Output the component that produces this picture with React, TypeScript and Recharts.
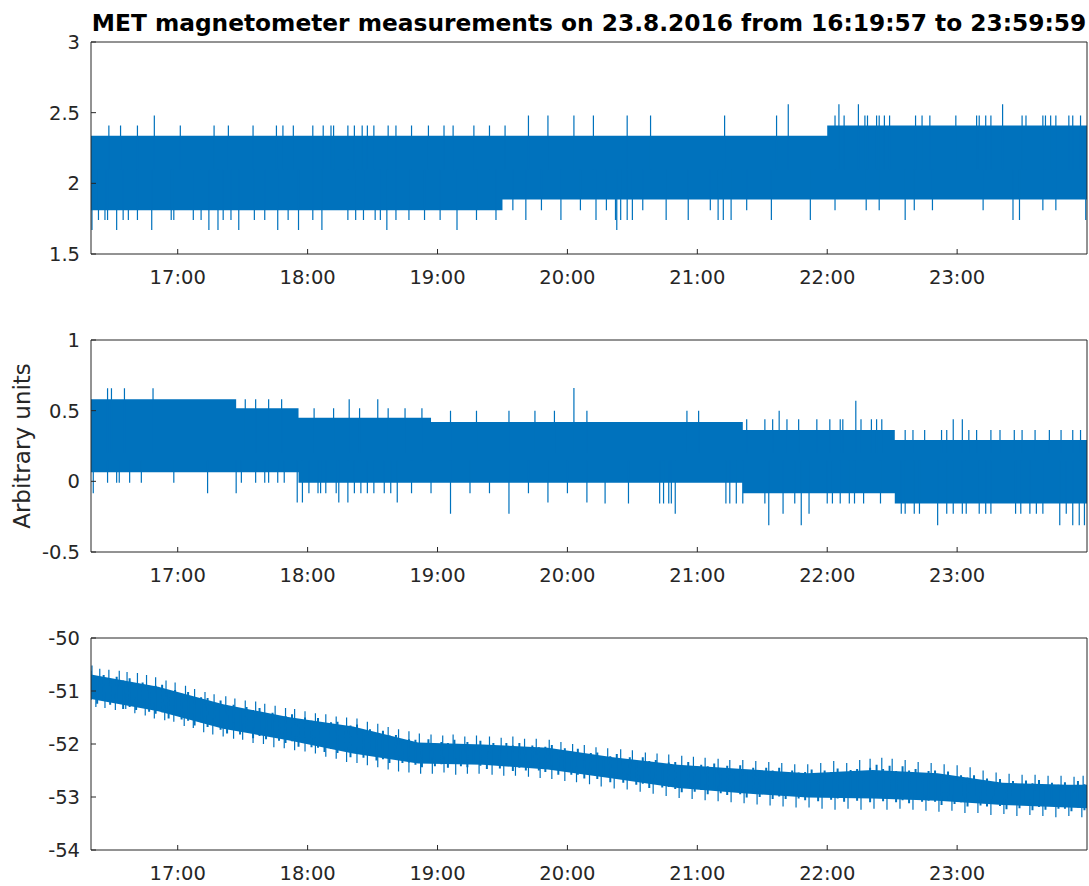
import React from 'react';
import { ComposedChart, Area, Line, XAxis, YAxis } from 'recharts';

const T_START = 16 + 19 / 60 + 57 / 3600;
const T_END = 23 + 59 / 60 + 59 / 3600;
const hourTicks = [17, 18, 19, 20, 21, 22, 23];
const hourLabels = ['17:00', '18:00', '19:00', '20:00', '21:00', '22:00', '23:00'];

const TITLE = 'MET magnetometer measurements on 23.8.2016 from 16:19:57 to 23:59:59';
const Y_LABEL = 'Arbitrary units';

// ---------- Panel 1 ----------
const p1Ticks = [1.5, 2, 2.5, 3];
const p1Domain = [1.5, 3];
const p1BandT = [T_START, 19.5, 22.0, T_END];
const p1BandLo = [1.81, 1.885, 1.885, 1.885];
const p1BandHi = [2.337, 2.337, 2.41, 2.41];
const p1UpT = [16.47, 16.56, 16.69, 16.82, 17.02, 17.28, 17.39, 17.58, 17.76, 17.81, 17.89, 18.04, 18.12, 18.18, 18.2, 18.31, 18.36, 18.42, 18.46, 18.51, 18.62, 18.68, 18.8, 18.93, 19.05, 19.12, 19.28, 19.4, 19.52, 19.7, 19.85, 20.05, 20.2, 20.46, 20.64, 21.21, 21.61, 21.7, 22.06, 22.09, 22.13, 22.24, 22.29, 22.31, 22.38, 22.4, 22.44, 22.48, 22.68, 22.73, 22.79, 22.99, 23.15, 23.17, 23.22, 23.26, 23.35, 23.5, 23.53, 23.66, 23.68, 23.72, 23.76, 23.86, 23.89, 23.95];
const p1UpV = [2.41, 2.41, 2.41, 2.48, 2.41, 2.41, 2.41, 2.41, 2.41, 2.41, 2.41, 2.41, 2.41, 2.41, 2.41, 2.41, 2.41, 2.41, 2.41, 2.41, 2.41, 2.41, 2.41, 2.41, 2.41, 2.41, 2.41, 2.41, 2.41, 2.48, 2.48, 2.48, 2.48, 2.48, 2.48, 2.48, 2.48, 2.56, 2.48, 2.56, 2.48, 2.56, 2.48, 2.48, 2.48, 2.48, 2.48, 2.48, 2.48, 2.48, 2.48, 2.48, 2.48, 2.48, 2.48, 2.48, 2.56, 2.48, 2.48, 2.48, 2.48, 2.48, 2.48, 2.48, 2.48, 2.48];
const p1DnT = [16.34, 16.39, 16.44, 16.46, 16.53, 16.58, 16.62, 16.69, 16.8, 16.95, 16.97, 17.12, 17.18, 17.24, 17.31, 17.35, 17.41, 17.47, 17.59, 17.67, 17.77, 17.85, 17.93, 18.04, 18.11, 18.31, 18.37, 18.43, 18.52, 18.56, 18.61, 18.68, 18.78, 18.9, 19.02, 19.15, 19.3, 19.45, 19.58, 19.68, 19.8, 19.95, 20.1, 20.22, 20.3, 20.37, 20.38, 20.41, 20.46, 20.5, 20.58, 20.76, 20.93, 21.1, 21.16, 21.2, 21.26, 21.38, 21.57, 21.87, 22.06, 22.3, 22.4, 22.6, 22.67, 22.81, 23.2, 23.43, 23.48, 23.66, 23.76, 23.99];
const p1DnV = [1.67, 1.74, 1.74, 1.74, 1.67, 1.74, 1.74, 1.74, 1.67, 1.74, 1.74, 1.74, 1.74, 1.67, 1.67, 1.74, 1.74, 1.67, 1.74, 1.74, 1.67, 1.74, 1.67, 1.74, 1.67, 1.74, 1.74, 1.74, 1.74, 1.74, 1.67, 1.74, 1.74, 1.74, 1.74, 1.67, 1.74, 1.74, 1.81, 1.74, 1.81, 1.74, 1.81, 1.74, 1.81, 1.74, 1.67, 1.74, 1.74, 1.74, 1.81, 1.74, 1.74, 1.81, 1.74, 1.74, 1.74, 1.81, 1.74, 1.74, 1.81, 1.81, 1.81, 1.74, 1.81, 1.81, 1.81, 1.74, 1.74, 1.81, 1.81, 1.74];

// ---------- Panel 2 ----------
const p2Ticks = [-0.5, 0, 0.5, 1];
const p2Domain = [-0.5, 1];
const p2BandT = [T_START, 17.45, 17.93, 18.95, 21.35, 22.52, T_END];
const p2BandLo = [0.064, 0.064, -0.01, -0.01, -0.085, -0.156, -0.156];
const p2BandHi = [0.58, 0.517, 0.45, 0.42, 0.363, 0.292, 0.292];
const p2UpT = [16.46, 16.49, 16.59, 16.81, 17.52, 17.6, 17.7, 17.8, 18.05, 18.2, 18.32, 18.4, 18.54, 18.62, 18.75, 18.88, 19.1, 19.3, 19.55, 19.75, 19.9, 20.05, 20.15, 20.92, 21.01, 21.38, 21.52, 21.58, 21.63, 21.69, 21.78, 21.92, 22.02, 22.1, 22.12, 22.22, 22.26, 22.34, 22.38, 22.42, 22.6, 22.66, 22.75, 22.88, 22.92, 22.97, 23.04, 23.09, 23.15, 23.26, 23.33, 23.44, 23.5, 23.6, 23.71, 23.8, 23.89, 23.95];
const p2UpV = [0.658, 0.658, 0.658, 0.658, 0.58, 0.58, 0.58, 0.58, 0.517, 0.517, 0.58, 0.517, 0.58, 0.517, 0.517, 0.517, 0.5, 0.5, 0.5, 0.5, 0.5, 0.66, 0.5, 0.5, 0.5, 0.44, 0.44, 0.44, 0.5, 0.44, 0.44, 0.44, 0.44, 0.44, 0.44, 0.57, 0.44, 0.44, 0.44, 0.44, 0.363, 0.363, 0.363, 0.363, 0.363, 0.44, 0.44, 0.363, 0.363, 0.363, 0.363, 0.363, 0.363, 0.363, 0.363, 0.363, 0.363, 0.363];
const p2DnT = [16.35, 16.46, 16.53, 16.55, 16.63, 16.72, 16.97, 17.23, 17.45, 17.49, 17.6, 17.67, 17.7, 17.77, 17.82, 17.92, 17.96, 18.01, 18.08, 18.1, 18.14, 18.22, 18.24, 18.31, 18.36, 18.41, 18.46, 18.51, 18.59, 18.64, 18.69, 18.8, 18.95, 19.1, 19.25, 19.4, 19.55, 19.7, 19.85, 20.0, 20.15, 20.29, 20.47, 20.71, 20.74, 20.78, 20.8, 20.83, 21.22, 21.25, 21.3, 21.35, 21.52, 21.55, 21.66, 21.75, 21.8, 21.86, 22.0, 22.04, 22.1, 22.17, 22.21, 22.28, 22.41, 22.57, 22.6, 22.67, 22.71, 22.85, 22.92, 22.97, 23.04, 23.07, 23.17, 23.22, 23.26, 23.45, 23.49, 23.56, 23.61, 23.66, 23.79, 23.84, 23.89, 23.94, 23.98];
const p2DnV = [-0.085, -0.01, -0.01, -0.01, -0.01, -0.01, -0.01, -0.085, -0.085, -0.01, -0.01, -0.01, -0.01, -0.01, -0.01, -0.15, -0.15, -0.085, -0.085, -0.085, -0.085, -0.085, -0.15, -0.15, -0.085, -0.085, -0.085, -0.085, -0.085, -0.085, -0.15, -0.085, -0.085, -0.23, -0.085, -0.085, -0.23, -0.085, -0.15, -0.085, -0.15, -0.156, -0.156, -0.156, -0.156, -0.156, -0.156, -0.23, -0.156, -0.156, -0.156, -0.156, -0.156, -0.31, -0.23, -0.156, -0.31, -0.23, -0.156, -0.156, -0.156, -0.156, -0.156, -0.156, -0.156, -0.23, -0.23, -0.23, -0.23, -0.31, -0.23, -0.23, -0.23, -0.23, -0.23, -0.23, -0.23, -0.23, -0.23, -0.23, -0.23, -0.23, -0.31, -0.23, -0.31, -0.31, -0.31];

// ---------- Panel 3 ----------
const p3Ticks = [-54, -53, -52, -51, -50];
const p3Domain = [-54, -50];
// solid core of the drifting band (every 30 min)
const p3CoreT = [T_START, 16.85, 17.35, 17.85, 18.35, 18.85, 19.35, 19.85, 20.35, 20.85, 21.35, 21.85, 22.35, 22.85, 23.35, 23.85, T_END];
const p3CoreHi = [-50.69, -50.92, -51.25, -51.49, -51.67, -51.97, -52.01, -52.07, -52.25, -52.39, -52.47, -52.55, -52.49, -52.55, -52.73, -52.77, -52.77];
const p3CoreLo = [-51.15, -51.38, -51.71, -51.93, -52.18, -52.37, -52.39, -52.48, -52.65, -52.83, -52.93, -53.01, -53.03, -53.07, -53.15, -53.2, -53.21];
// min/max of the signal every 3 minutes from 16:19:48
const p3Start = 16.33;
const p3Step = 0.05;
const p3Hi = [
  -50.62, -50.72, -50.7, -50.79, -50.73, -50.8, -50.76, -50.9, -50.84, -50.9,
  -50.9, -50.88, -51.02, -50.98, -51.05, -51.02, -51.16, -51.12, -51.13, -51.24,
  -51.18, -51.28, -51.26, -51.35, -51.3, -51.36, -51.32, -51.47, -51.41, -51.47,
  -51.47, -51.44, -51.56, -51.5, -51.56, -51.51, -51.64, -51.59, -51.58, -51.67,
  -51.65, -51.63, -51.75, -51.72, -51.83, -51.75, -51.84, -51.83, -51.94, -51.91,
  -51.92, -51.98, -51.91, -52.01, -51.96, -51.98, -51.92, -52.02, -51.96, -52.05,
  -51.94, -52.03, -51.98, -52.06, -51.98, -52.03, -51.98, -52.1, -52.03, -52.06,
  -52.05, -52.02, -52.14, -52.08, -52.14, -52.09, -52.22, -52.17, -52.16, -52.25,
  -52.23, -52.19, -52.3, -52.25, -52.35, -52.25, -52.32, -52.3, -52.39, -52.35,
  -52.34, -52.41, -52.34, -52.44, -52.39, -52.42, -52.37, -52.47, -52.41, -52.5,
  -52.4, -52.49, -52.45, -52.52, -52.45, -52.5, -52.45, -52.58, -52.5, -52.54,
  -52.53, -52.48, -52.57, -52.5, -52.53, -52.46, -52.57, -52.49, -52.47, -52.53,
  -52.45, -52.39, -52.47, -52.41, -52.51, -52.42, -52.5, -52.47, -52.56, -52.51,
  -52.5, -52.58, -52.52, -52.63, -52.59, -52.63, -52.59, -52.7, -52.65, -52.75,
  -52.66, -52.74, -52.7, -52.77, -52.69, -52.74, -52.68, -52.81, -52.73, -52.77,
  -52.72, -52.78, -52.7, -52.76, -52.74,
];
const p3Lo = [
  -51.17, -51.24, -51.18, -51.26, -51.2, -51.34, -51.3, -51.36, -51.3, -51.39,
  -51.43, -51.4, -51.52, -51.45, -51.54, -51.56, -51.65, -51.59, -51.68, -51.64,
  -51.73, -51.8, -51.73, -51.82, -51.76, -51.89, -51.85, -51.91, -51.86, -51.94,
  -51.98, -51.95, -52.05, -51.98, -52.06, -52.07, -52.15, -52.09, -52.17, -52.12,
  -52.25, -52.19, -52.26, -52.21, -52.31, -52.29, -52.36, -52.26, -52.36, -52.35,
  -52.39, -52.44, -52.34, -52.42, -52.38, -52.45, -52.34, -52.42, -52.44, -52.37,
  -52.41, -52.47, -52.39, -52.46, -52.39, -52.51, -52.45, -52.5, -52.43, -52.5,
  -52.53, -52.49, -52.58, -52.5, -52.58, -52.58, -52.65, -52.58, -52.66, -52.59,
  -52.72, -52.66, -52.73, -52.67, -52.77, -52.75, -52.83, -52.73, -52.82, -52.81,
  -52.85, -52.91, -52.82, -52.9, -52.87, -52.95, -52.85, -52.93, -52.96, -52.9,
  -52.95, -53.01, -52.93, -53.0, -52.92, -53.04, -52.99, -53.04, -52.96, -53.03,
  -53.06, -53.0, -53.08, -52.98, -53.05, -53.03, -53.09, -53.0, -53.07, -52.99,
  -53.1, -53.02, -53.08, -53.01, -53.1, -53.06, -53.12, -53.0, -53.09, -53.07,
  -53.09, -53.15, -53.06, -53.13, -53.1, -53.18, -53.08, -53.16, -53.18, -53.12,
  -53.17, -53.23, -53.14, -53.21, -53.13, -53.25, -53.19, -53.24, -53.15, -53.22,
  -53.22, -53.27, -53.2, -53.25, -53.24,
];
const p3UpT = [16.34, 16.4, 16.47, 16.55, 16.61, 16.69, 16.76, 16.83, 16.91, 16.98, 17.06, 17.13, 17.21, 17.28, 17.37, 17.44, 17.52, 17.6, 17.67, 17.75, 17.83, 17.9, 17.98, 18.06, 18.14, 18.22, 18.3, 18.38, 18.46, 18.54, 18.62, 18.7, 18.78, 18.86, 18.95, 19.04, 19.12, 19.21, 19.3, 19.4, 19.49, 19.58, 19.67, 19.76, 19.86, 19.95, 20.04, 20.13, 20.22, 20.31, 20.41, 20.5, 20.6, 20.69, 20.78, 20.88, 20.97, 21.06, 21.16, 21.25, 21.35, 21.45, 21.55, 21.65, 21.75, 21.85, 21.95, 22.05, 22.15, 22.25, 22.33, 22.42, 22.5, 22.6, 22.7, 22.8, 22.9, 23.0, 23.1, 23.2, 23.3, 23.4, 23.5, 23.6, 23.7, 23.8, 23.9, 23.97];
const p3UpV = [-50.52, -50.58, -50.6, -50.62, -50.64, -50.66, -50.7, -50.74, -50.8, -50.84, -50.9, -50.96, -51.02, -51.06, -51.1, -51.14, -51.18, -51.2, -51.24, -51.28, -51.32, -51.34, -51.38, -51.42, -51.44, -51.48, -51.5, -51.52, -51.58, -51.62, -51.68, -51.72, -51.76, -51.8, -51.82, -51.84, -51.82, -51.86, -51.84, -51.86, -51.88, -51.86, -51.9, -51.9, -51.92, -51.96, -52.0, -52.02, -52.06, -52.08, -52.1, -52.12, -52.16, -52.18, -52.2, -52.22, -52.24, -52.26, -52.28, -52.3, -52.3, -52.32, -52.34, -52.36, -52.38, -52.38, -52.36, -52.32, -52.36, -52.3, -52.28, -52.26, -52.28, -52.3, -52.34, -52.36, -52.38, -52.4, -52.44, -52.5, -52.54, -52.56, -52.58, -52.58, -52.6, -52.6, -52.62, -52.6];
const p3DnT = [16.37, 16.44, 16.52, 16.6, 16.67, 16.75, 16.82, 16.9, 16.97, 17.05, 17.12, 17.2, 17.27, 17.35, 17.43, 17.5, 17.58, 17.66, 17.74, 17.82, 17.9, 17.98, 18.06, 18.14, 18.22, 18.3, 18.38, 18.46, 18.54, 18.62, 18.7, 18.78, 18.87, 18.96, 19.05, 19.14, 19.23, 19.32, 19.42, 19.51, 19.6, 19.7, 19.79, 19.88, 19.98, 20.07, 20.17, 20.26, 20.36, 20.46, 20.56, 20.66, 20.76, 20.86, 20.96, 21.06, 21.16, 21.26, 21.36, 21.46, 21.56, 21.66, 21.76, 21.86, 21.96, 22.06, 22.16, 22.26, 22.36, 22.46, 22.56, 22.66, 22.76, 22.86, 22.96, 23.06, 23.16, 23.26, 23.36, 23.46, 23.56, 23.66, 23.76, 23.86, 23.96];
const p3DnV = [-51.3, -51.32, -51.36, -51.34, -51.42, -51.46, -51.52, -51.55, -51.58, -51.66, -51.7, -51.78, -51.82, -51.86, -51.9, -51.92, -51.98, -52.0, -52.06, -52.08, -52.12, -52.14, -52.18, -52.24, -52.28, -52.34, -52.36, -52.4, -52.44, -52.48, -52.52, -52.54, -52.56, -52.56, -52.54, -52.58, -52.56, -52.56, -52.58, -52.6, -52.6, -52.62, -52.64, -52.66, -52.7, -52.72, -52.76, -52.8, -52.84, -52.86, -52.9, -52.94, -52.98, -53.02, -53.04, -53.06, -53.08, -53.1, -53.12, -53.14, -53.16, -53.18, -53.2, -53.2, -53.22, -53.24, -53.22, -53.24, -53.22, -53.24, -53.22, -53.24, -53.26, -53.28, -53.26, -53.3, -53.3, -53.34, -53.32, -53.36, -53.34, -53.36, -53.38, -53.36, -53.38];

const BLUE = '#0072BD';
const AXIS = '#262626';
const FONT = 'DejaVu Sans';

type Row = { t: number; s: number | null };

function bandRows(T: number[], lo: number[], hi: number[]) {
  return T.map((t, i) => ({ t, band: [lo[i], hi[i]] }));
}

// each sample becomes a vertical stroke between two values, strokes kept apart by a null row
function segRows(T: number[], a: number[], b: number[]): Row[] {
  const rows: Row[] = [];
  T.forEach((t, i) => {
    rows.push({ t, s: a[i] });
    rows.push({ t, s: b[i] });
    rows.push({ t, s: null });
  });
  return rows;
}

function spikeRows(T: number[], V: number[], base: (v: number) => number): Row[] {
  return segRows(T, V, V.map(base));
}

const p3T = p3Hi.map((_, i) => p3Start + i * p3Step);

const fmtY = (v: number) => String(v);
const fmtX = (h: number) => hourLabels[hourTicks.indexOf(h)] ?? '';

function Panel(props: {
  top: number;
  domain: number[];
  ticks: number[];
  band: any[];
  bandType: 'stepAfter' | 'linear';
  strokes: { rows: Row[]; width: number }[];
}) {
  const tickStyle = { fontSize: 19.5, fontFamily: FONT, fill: AXIS };
  return (
    <div style={{ position: 'absolute', left: 0, top: props.top }}>
      <ComposedChart width={1089} height={298} margin={{ top: 41, right: 1, bottom: 14, left: 0 }}>
        <XAxis
          type="number"
          dataKey="t"
          domain={[T_START, T_END]}
          allowDataOverflow
          ticks={hourTicks}
          interval={0}
          tickFormatter={fmtX}
          height={30}
          tickSize={-5}
          tickMargin={21}
          stroke={AXIS}
          tick={tickStyle}
        />
        <XAxis
          xAxisId="top"
          orientation="top"
          type="number"
          dataKey="t"
          domain={[T_START, T_END]}
          allowDataOverflow
          ticks={hourTicks}
          interval={0}
          height={1}
          tickSize={-5}
          tick={false}
          stroke={AXIS}
        />
        <YAxis
          type="number"
          domain={props.domain}
          allowDataOverflow
          ticks={props.ticks}
          interval={0}
          tickFormatter={fmtY}
          width={91}
          tickSize={-5}
          tickMargin={16}
          stroke={AXIS}
          tick={tickStyle}
        />
        <YAxis
          yAxisId="right"
          orientation="right"
          type="number"
          domain={props.domain}
          allowDataOverflow
          ticks={props.ticks}
          interval={0}
          width={1}
          tickSize={-5}
          tick={false}
          stroke={AXIS}
        />
        <Area
          data={props.band}
          dataKey="band"
          type={props.bandType}
          stroke="none"
          fill={BLUE}
          fillOpacity={1}
          isAnimationActive={false}
        />
        {props.strokes.map((st, k) => (
          <Line
            key={k}
            data={st.rows}
            dataKey="s"
            stroke={BLUE}
            strokeWidth={st.width}
            dot={false}
            activeDot={false}
            connectNulls={false}
            isAnimationActive={false}
          />
        ))}
        <Line
          xAxisId="top"
          yAxisId="right"
          data={props.band}
          dataKey="band"
          stroke="none"
          dot={false}
          activeDot={false}
          isAnimationActive={false}
        />
      </ComposedChart>
    </div>
  );
}

export default function App() {
  return (
    <div style={{ position: 'absolute', left: 0, top: 0, width: 1089, height: 886, background: '#fff' }}>
      <Panel
        top={0}
        domain={p1Domain}
        ticks={p1Ticks}
        band={bandRows(p1BandT, p1BandLo, p1BandHi)}
        bandType="stepAfter"
        strokes={[
          { rows: spikeRows(p1UpT, p1UpV, () => 2.1), width: 1.2 },
          { rows: spikeRows(p1DnT, p1DnV, () => 2.1), width: 1.2 },
        ]}
      />
      <Panel
        top={298}
        domain={p2Domain}
        ticks={p2Ticks}
        band={bandRows(p2BandT, p2BandLo, p2BandHi)}
        bandType="stepAfter"
        strokes={[
          { rows: spikeRows(p2UpT, p2UpV, () => 0.2), width: 1.2 },
          { rows: spikeRows(p2DnT, p2DnV, () => 0.15), width: 1.2 },
        ]}
      />
      <Panel
        top={596}
        domain={p3Domain}
        ticks={p3Ticks}
        band={bandRows(p3CoreT, p3CoreLo, p3CoreHi)}
        bandType="linear"
        strokes={[
          { rows: segRows(p3T, p3Lo, p3Hi), width: 2 },
          { rows: spikeRows(p3UpT, p3UpV, (v) => v - 0.3), width: 1.2 },
          { rows: spikeRows(p3DnT, p3DnV, (v) => v + 0.3), width: 1.2 },
        ]}
      />
      <svg width={1089} height={886} style={{ position: 'absolute', left: 0, top: 0, pointerEvents: 'none' }}>
        <text x={589} y={31} textAnchor="middle" fontFamily={FONT} fontWeight="bold" fontSize={23.3} fill="#000">
          {TITLE}
        </text>
        <text
          transform="translate(29.5,446) rotate(-90)"
          textAnchor="middle"
          fontFamily={FONT}
          fontSize={23}
          fill={AXIS}
        >
          {Y_LABEL}
        </text>
      </svg>
    </div>
  );
}
